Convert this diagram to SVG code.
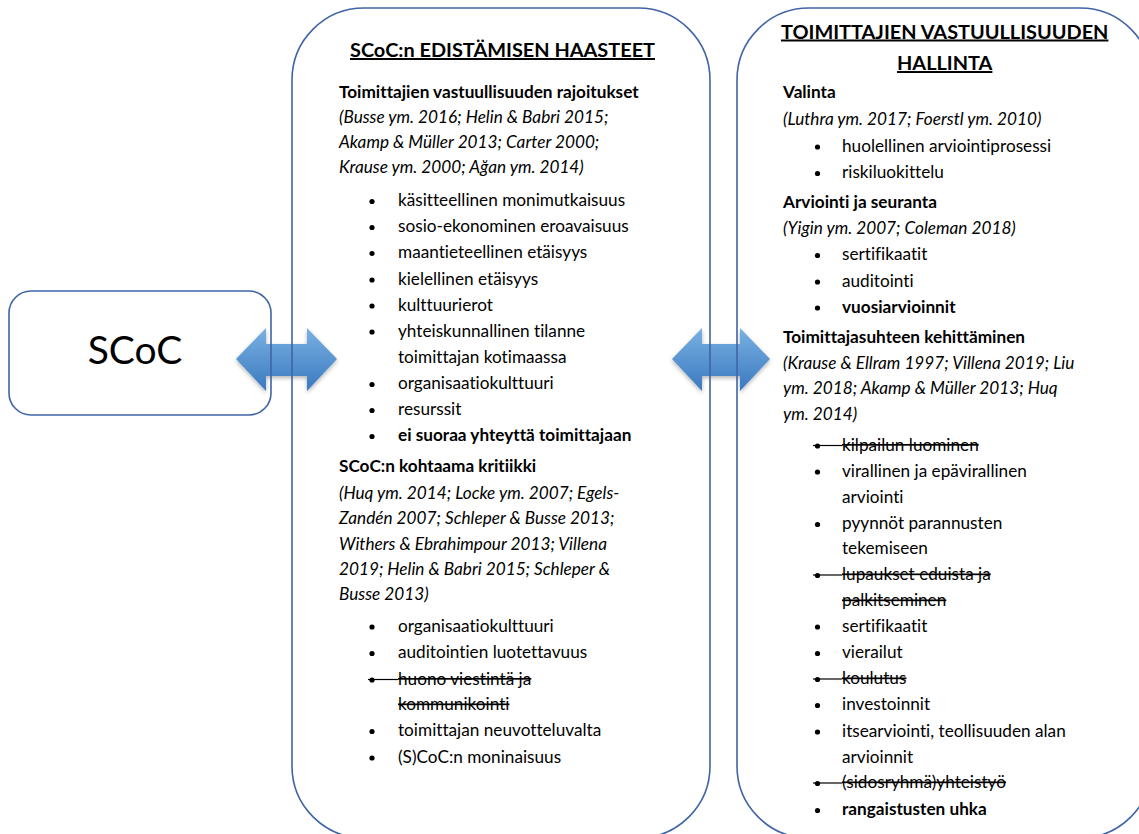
<svg xmlns="http://www.w3.org/2000/svg" width="1139" height="834" viewBox="0 0 1139 834">
  <defs>
    <linearGradient id="arrowFill" x1="0" y1="0" x2="0" y2="1">
      <stop offset="0" stop-color="#7ab1e3"/>
      <stop offset="1" stop-color="#3a79bf"/>
    </linearGradient>
    <filter id="softShadow" x="-20%" y="-30%" width="140%" height="160%">
      <feDropShadow dx="0" dy="2" stdDeviation="2" flood-color="#000" flood-opacity="0.3"/>
    </filter>
    <style>
      .box { fill: none; stroke: #4064a6; stroke-width: 1.6; }
      .arrow { fill: url(#arrowFill); filter: url(#softShadow); }
      text { font-family: Lato, "Open Sans", "Liberation Sans", sans-serif; font-size: 17.2px; fill: #000; font-variant-ligatures: none; }
      .title { font-size: 19.9px; font-weight: bold; text-anchor: middle; text-decoration: underline; }
      .head { font-weight: bold; }
      .cite { font-style: italic; }
      .bold { font-weight: bold; }
      .strike { text-decoration: line-through; }
      .big { font-size: 39px; text-anchor: middle; }
      .dot { fill: #000; }
      .strikeLine { stroke: #000; stroke-width: 1.2; }
    </style>
  </defs>

  <rect width="1139" height="834" fill="#fff"/>

  <!-- connectors: two-way block arrows -->
  <g id="connectors">
    <path id="arrow-scoc-haasteet" class="arrow" d="M236,359 L266,328 L266,344 L307,344 L307,328 L337,359 L307,391 L307,376 L266,376 L266,391 Z"/>
    <path id="arrow-haasteet-hallinta" class="arrow" d="M672,359 L702,328 L702,344 L740,344 L740,328 L770,359 L740,391 L740,376 L702,376 L702,391 Z"/>
  </g>

  <!-- SCoC -->
  <g id="node-scoc">
    <rect class="box" x="9" y="291" width="262" height="124" rx="22"/>
    <text class="big" x="135" y="364">SCoC</text>
  </g>

  <!-- Challenges of promoting SCoC -->
  <g id="node-haasteet">
    <rect class="box" x="292" y="8" width="418" height="830" rx="72"/>
    <text class="title" x="502.5" y="57">SCoC:n EDISTÄMISEN HAASTEET</text>

    <text class="head" x="339" y="98">Toimittajien vastuullisuuden rajoitukset</text>
    <text class="cite" x="339" y="123">(Busse ym. 2016; Helin &amp; Babri 2015;</text>
    <text class="cite" x="339" y="148">Akamp &amp; Müller 2013; Carter 2000;</text>
    <text class="cite" x="339" y="173">Krause ym. 2000; Ağan ym. 2014)</text>

    <g class="dots">
      <circle class="dot" cx="372" cy="201.5" r="2.6"/>
      <circle class="dot" cx="372" cy="227.5" r="2.6"/>
      <circle class="dot" cx="372" cy="253.5" r="2.6"/>
      <circle class="dot" cx="372" cy="280" r="2.6"/>
      <circle class="dot" cx="372" cy="306" r="2.6"/>
      <circle class="dot" cx="372" cy="332" r="2.6"/>
      <circle class="dot" cx="372" cy="384.5" r="2.6"/>
      <circle class="dot" cx="372" cy="410.5" r="2.6"/>
      <circle class="dot" cx="372" cy="436.5" r="2.6"/>
    </g>
    <text x="398" y="206">käsitteellinen monimutkaisuus</text>
    <text x="398" y="232">sosio-ekonominen eroavaisuus</text>
    <text x="398" y="258">maantieteellinen etäisyys</text>
    <text x="398" y="284.5">kielellinen etäisyys</text>
    <text x="398" y="310.5">kulttuurierot</text>
    <text x="398" y="336.5">yhteiskunnallinen tilanne</text>
    <text x="398" y="362.5">toimittajan kotimaassa</text>
    <text x="398" y="389">organisaatiokulttuuri</text>
    <text x="398" y="415">resurssit</text>
    <text class="bold" x="398" y="441">ei suoraa yhteyttä toimittajaan</text>

    <text class="head" x="339" y="471.5">SCoC:n kohtaama kritiikki</text>
    <text class="cite" x="339" y="499">(Huq ym. 2014; Locke ym. 2007; Egels-</text>
    <text class="cite" x="339" y="524">Zandén 2007; Schleper &amp; Busse 2013;</text>
    <text class="cite" x="339" y="549.5">Withers &amp; Ebrahimpour 2013; Villena</text>
    <text class="cite" x="339" y="574.5">2019; Helin &amp; Babri 2015; Schleper &amp;</text>
    <text class="cite" x="339" y="600">Busse 2013)</text>

    <circle class="dot" cx="372" cy="627" r="2.6"/>
    <circle class="dot" cx="372" cy="653.5" r="2.6"/>
    <circle class="dot" cx="372" cy="680" r="2.6"/>
    <circle class="dot" cx="372" cy="731.5" r="2.6"/>
    <circle class="dot" cx="372" cy="758" r="2.6"/>
    <line class="strikeLine" x1="368" y1="679.5" x2="398" y2="679.5"/>
    <text x="398" y="631.5">organisaatiokulttuuri</text>
    <text x="398" y="658">auditointien luotettavuus</text>
    <text class="strike" x="398" y="684.5">huono viestintä ja</text>
    <text class="strike" x="398" y="710">kommunikointi</text>
    <text x="398" y="736">toimittajan neuvotteluvalta</text>
    <text x="398" y="762.5">(S)CoC:n moninaisuus</text>
  </g>

  <!-- Supplier responsibility management -->
  <g id="node-hallinta">
    <rect class="box" x="737" y="8" width="415" height="830" rx="72"/>
    <text class="title" x="944.7" y="38.5">TOIMITTAJIEN VASTUULLISUUDEN</text>
    <text class="title" x="944.7" y="70">HALLINTA</text>

    <text class="head" x="783" y="98">Valinta</text>
    <text class="cite" x="783" y="124.5">(Luthra ym. 2017; Foerstl ym. 2010)</text>
    <circle class="dot" cx="817.5" cy="147" r="2.6"/>
    <circle class="dot" cx="817.5" cy="173.5" r="2.6"/>
    <text x="842" y="151.5">huolellinen arviointiprosessi</text>
    <text x="842" y="178">riskiluokittelu</text>

    <text class="head" x="783" y="208">Arviointi ja seuranta</text>
    <text class="cite" x="783" y="233.5">(Yigin ym. 2007; Coleman 2018)</text>
    <circle class="dot" cx="817.5" cy="255.5" r="2.6"/>
    <circle class="dot" cx="817.5" cy="282" r="2.6"/>
    <circle class="dot" cx="817.5" cy="308" r="2.6"/>
    <text x="842" y="260">sertifikaatit</text>
    <text x="842" y="286.5">auditointi</text>
    <text class="bold" x="842" y="312.5">vuosiarvioinnit</text>

    <text class="head" x="783" y="343">Toimittajasuhteen kehittäminen</text>
    <text class="cite" x="783" y="368.5">(Krause &amp; Ellram 1997; Villena 2019; Liu</text>
    <text class="cite" x="783" y="394">ym. 2018; Akamp &amp; Müller 2013; Huq</text>
    <text class="cite" x="783" y="419.5">ym. 2014)</text>

    <circle class="dot" cx="817.5" cy="446" r="2.6"/>
    <circle class="dot" cx="817.5" cy="472" r="2.6"/>
    <circle class="dot" cx="817.5" cy="524.5" r="2.6"/>
    <circle class="dot" cx="817.5" cy="575.5" r="2.6"/>
    <circle class="dot" cx="817.5" cy="627" r="2.6"/>
    <circle class="dot" cx="817.5" cy="653.5" r="2.6"/>
    <circle class="dot" cx="817.5" cy="679.5" r="2.6"/>
    <circle class="dot" cx="817.5" cy="705.5" r="2.6"/>
    <circle class="dot" cx="817.5" cy="732" r="2.6"/>
    <circle class="dot" cx="817.5" cy="783.5" r="2.6"/>
    <circle class="dot" cx="817.5" cy="810.5" r="2.6"/>
    <line class="strikeLine" x1="813" y1="445.5" x2="842" y2="445.5"/>
    <line class="strikeLine" x1="813" y1="575" x2="842" y2="575"/>
    <line class="strikeLine" x1="813" y1="679" x2="842" y2="679"/>
    <line class="strikeLine" x1="813" y1="783" x2="842" y2="783"/>
    <text class="strike" x="842" y="450.5">kilpailun luominen</text>
    <text x="842" y="476.5">virallinen ja epävirallinen</text>
    <text x="842" y="502.5">arviointi</text>
    <text x="842" y="529">pyynnöt parannusten</text>
    <text x="842" y="554">tekemiseen</text>
    <text class="strike" x="842" y="580">lupaukset eduista ja</text>
    <text class="strike" x="842" y="606">palkitseminen</text>
    <text x="842" y="631.5">sertifikaatit</text>
    <text x="842" y="658">vierailut</text>
    <text class="strike" x="842" y="684">koulutus</text>
    <text x="842" y="710">investoinnit</text>
    <text x="842" y="736.5">itsearviointi, teollisuuden alan</text>
    <text x="842" y="762.5">arvioinnit</text>
    <text class="strike" x="842" y="788">(sidosryhmä)yhteistyö</text>
    <text class="bold" x="842" y="815">rangaistusten uhka</text>
  </g>
</svg>
